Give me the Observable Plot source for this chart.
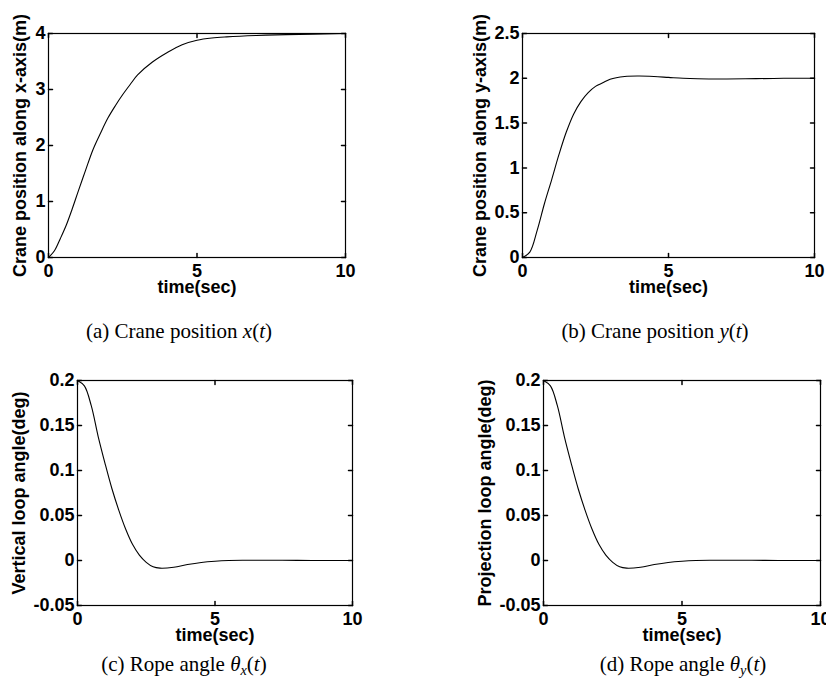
<!DOCTYPE html>
<html>
<head>
<meta charset="utf-8">
<script src="https://cdn.jsdelivr.net/npm/d3@7"></script>
<script src="https://cdn.jsdelivr.net/npm/@observablehq/plot@0.6"></script>
<style>
  html, body { margin: 0; padding: 0; background: #fff; overflow: hidden; }
  #page { position: relative; width: 826px; height: 689px; background: #fff; overflow: hidden; }
  .panel { position: absolute; }
  .cap { position: absolute; width: 320px; text-align: center; white-space: nowrap;
         font-family: "Liberation Serif", "Times New Roman", serif; font-size: 21px; line-height: 21px; color: #000; }
  .cap i { font-style: italic; }
  .sub { font-size: 0.68em; position: relative; top: 0.22em; }
</style>
</head>
<body>
<div id="page"></div>
<script>
// ---- data ----
const timeX  = [0, 0.2, 0.4, 0.6, 0.8, 1.0, 1.25, 1.5, 1.75, 2.0, 2.25, 2.5, 2.75, 3.0, 3.5, 4.0, 4.5, 5.0, 5.5, 6.0, 7.0, 8.0, 10.0];
const posX   = [0, 0.12, 0.34, 0.58, 0.87, 1.18, 1.56, 1.93, 2.22, 2.49, 2.71, 2.91, 3.09, 3.26, 3.49, 3.66, 3.8, 3.88, 3.92, 3.94, 3.965, 3.98, 4.0];
const time   = [0, 0.25, 0.5, 0.75, 1.0, 1.25, 1.5, 1.75, 2.0, 2.25, 2.5, 2.75, 3.0, 3.5, 4.0, 4.5, 5.0, 5.5, 6.0, 7.0, 8.0, 9.0, 10.0];
const posY   = [0, 0.06, 0.3, 0.6, 0.87, 1.15, 1.4, 1.6, 1.74, 1.84, 1.91, 1.95, 1.99, 2.02, 2.025, 2.02, 2.01, 2.0, 1.995, 1.993, 1.996, 2.0, 2.0];
const thetaX = [0.2, 0.194, 0.172, 0.138, 0.108, 0.08, 0.056, 0.035, 0.018, 0.006, -0.002, -0.007, -0.0085, -0.0075, -0.0045, -0.0022, -0.0008, 0, 0.0003, 0.0003, 0.0001, 0, 0];
const thetaY = [0.2, 0.194, 0.172, 0.138, 0.108, 0.08, 0.056, 0.035, 0.018, 0.006, -0.002, -0.007, -0.0085, -0.0075, -0.0045, -0.0022, -0.0008, 0, 0.0003, 0.0003, 0.0001, 0, 0];

const timeTicks = [0, 5, 10];
const ticksPosX = [0, 1, 2, 3, 4];
const ticksPosY = [0, 0.5, 1, 1.5, 2, 2.5];
const ticksAngle = [-0.05, 0, 0.05, 0.1, 0.15, 0.2];

const xLabel = "time(sec)";
const yLabels = ["Crane position along x-axis(m)", "Crane position along y-axis(m)", "Vertical loop angle(deg)", "Projection loop angle(deg)"];

// ---- helpers ----
const fmt = d => String(+d.toFixed(2));
const tickShape = { draw(context, l) { context.moveTo(0, 0); context.lineTo(0, -l); } };
const TL = 4;

function panel({t, v, yDomain, yTicks, yLabel, width, height, ml, mr, mt, mb, labelDx}) {
  const data = t.map((d, i) => ({t: d, v: v[i]}));
  return Plot.plot({
    width, height,
    marginLeft: ml, marginRight: mr, marginTop: mt, marginBottom: mb,
    style: {fontFamily: "'Liberation Sans', Arial, sans-serif", fontSize: "18px", fontWeight: "bold",
            color: "#000", background: "#fff", overflow: "visible", maxWidth: "none"},
    x: {domain: [0, 10], nice: false},
    y: {domain: yDomain, nice: false},
    marks: [
      Plot.line(data, {x: "t", y: "v", stroke: "#000", strokeWidth: 1.1, curve: "catmull-rom"}),
      Plot.frame({stroke: "#000", strokeWidth: 1.2}),
      Plot.vector(timeTicks, {x: d => d, frameAnchor: "bottom", length: TL, anchor: "start", rotate: 0, shape: tickShape, stroke: "#000"}),
      Plot.vector(timeTicks, {x: d => d, frameAnchor: "top", length: TL, anchor: "start", rotate: 180, shape: tickShape, stroke: "#000"}),
      Plot.vector(yTicks, {y: d => d, frameAnchor: "left", length: TL, anchor: "start", rotate: 90, shape: tickShape, stroke: "#000"}),
      Plot.vector(yTicks, {y: d => d, frameAnchor: "right", length: TL, anchor: "start", rotate: -90, shape: tickShape, stroke: "#000"}),
      Plot.axisX({ticks: timeTicks, tickSize: 0, tickPadding: 7, tickFormat: fmt, label: null}),
      Plot.axisY({ticks: yTicks, tickSize: 0, tickPadding: 3, tickFormat: fmt, label: null}),
      Plot.text([xLabel], {text: d => d, frameAnchor: "bottom", textAnchor: "middle", lineAnchor: "bottom", dy: 35, fill: "#000"}),
      Plot.text([yLabel], {text: d => d, frameAnchor: "left", textAnchor: "middle", rotate: -90, lineAnchor: "top", dx: labelDx, fill: "#000"})
    ]
  });
}

const page = document.getElementById("page");
function place(el, left, top) {
  const d = document.createElement("div");
  d.className = "panel";
  d.style.left = left + "px";
  d.style.top = top + "px";
  d.appendChild(el);
  page.appendChild(d);
}

place(panel({t: timeX, v: posX, yDomain: [0, 4], yTicks: ticksPosX, yLabel: yLabels[0],
  width: 400, height: 310, ml: 48, mr: 55, mt: 33, mb: 53, labelDx: -35}), 0, 0);
place(panel({t: time, v: posY, yDomain: [0, 2.5], yTicks: ticksPosY, yLabel: yLabels[1],
  width: 413, height: 310, ml: 109, mr: 12, mt: 33, mb: 53, labelDx: -49}), 413, 0);
place(panel({t: time, v: thetaX, yDomain: [-0.05, 0.2], yTicks: ticksAngle, yLabel: yLabels[2],
  width: 400, height: 310, ml: 77, mr: 48, mt: 33, mb: 52, labelDx: -65}), 0, 347);
place(panel({t: time, v: thetaY, yDomain: [-0.05, 0.2], yTicks: ticksAngle, yLabel: yLabels[3],
  width: 413, height: 310, ml: 130, mr: 6, mt: 33, mb: 52, labelDx: -65}), 413, 347);

// ---- captions ----
const captions = [
  {html: '(a) Crane position <i>x</i>(<i>t</i>)', cx: 179, base: 339},
  {html: '(b) Crane position <i>y</i>(<i>t</i>)', cx: 655, base: 339},
  {html: '(c) Rope angle <i>θ</i><span class="sub"><i>x</i></span>(<i>t</i>)', cx: 184, base: 672},
  {html: '(d) Rope angle <i>θ</i><span class="sub"><i>y</i></span>(<i>t</i>)', cx: 683, base: 672}
];
for (const c of captions) {
  const d = document.createElement("div");
  d.className = "cap";
  d.innerHTML = c.html;
  d.style.left = (c.cx - 160) + "px";
  d.style.top = (c.base - 17.6) + "px";
  page.appendChild(d);
}
</script>
</body>
</html>
